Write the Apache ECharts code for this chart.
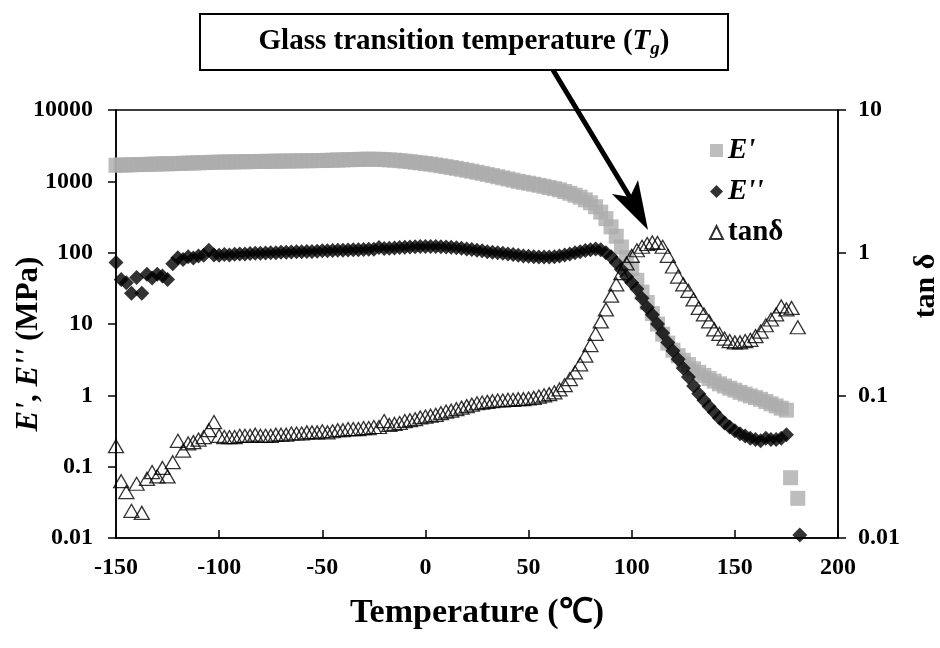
<!DOCTYPE html>
<html><head><meta charset="utf-8">
<script src="https://cdn.jsdelivr.net/npm/echarts@6/dist/echarts.min.js"></script>
<style>html,body{margin:0;padding:0;background:#fff}#c{width:940px;height:648px}</style>
</head><body><div id="c"></div>
<script>
// Temperature (°C) sampling points
const temps = [
-150,-147.5,-145,-142.5,-140,-137.5,-135,-132.5,-130,-127.5,
-125,-122.5,-120,-117.5,-115,-112.5,-110,-107.5,-105,-102.5,
-100,-97.5,-95,-92.5,-90,-87.5,-85,-82.5,-80,-77.5,
-75,-72.5,-70,-67.5,-65,-62.5,-60,-57.5,-55,-52.5,
-50,-47.5,-45,-42.5,-40,-37.5,-35,-32.5,-30,-27.5,
-25,-22.5,-20,-17.5,-15,-12.5,-10,-7.5,-5,-2.5,
0,2.5,5,7.5,10,12.5,15,17.5,20,22.5,
25,27.5,30,32.5,35,37.5,40,42.5,45,47.5,
50,52.5,55,57.5,60,62.5,65,67.5,70,72.5,
75,77.5,80,82.5,85,87.5,90,92.5,95,97.5,
100,102.5,105,107.5,110,112.5,115,117.5,120,122.5,
125,127.5,130,132.5,135,137.5,140,142.5,145,147.5,
150,152.5,155,157.5,160,162.5,165,167.5,170,172.5,
175];

// Storage modulus E' (MPa)
const ePrime = [
1680,1700,1690,1710,1720,1720,1730,1740,1750,1760,
1760,1770,1780,1790,1800,1810,1820,1830,1840,1850,
1860,1865,1870,1875,1880,1885,1890,1895,1900,1905,
1910,1915,1920,1925,1930,1935,1940,1945,1950,1955,
1960,1970,1980,1990,2000,2010,2020,2030,2040,2045,
2040,2035,2020,2000,1980,1950,1920,1890,1850,1815,
1780,1740,1700,1655,1610,1565,1520,1475,1430,1385,
1340,1295,1250,1205,1160,1120,1080,1040,1000,970,
940,910,880,850,820,790,760,720,680,640,
600,550,500,440,370,300,230,170,120,85,
60,41,28,20,14,10,7.2,5.4,4.3,3.6,
3.1,2.7,2.35,2.1,1.9,1.72,1.58,1.45,1.35,1.26,
1.18,1.1,1.04,0.98,0.93,0.88,0.82,0.76,0.71,0.66,
0.62];
const ePrimeTailT = [177, 180.5];
const ePrimeTail = [0.07, 0.036];

// Loss modulus E'' (MPa)
const eDouble = [
73,42,38,27,45,27,50,44,50,47,
42,70,85,80,88,84,90,92,108,93,
92,94,93,95,96,96,97,98,98,99,
100,100,101,101,102,103,103,104,104,105,
106,106,107,108,108,109,110,110,111,112,
112,118,114,115,116,118,119,120,121,122,
122,122,122,121,120,119,117,115,113,111,
108,106,103,101,100,98,96,94,92,90,
89,88,87,87,87,88,90,93,96,100,
103,107,110,113,110,100,88,72,58,46,
38,31,23,17,13.5,10,7.5,5.5,4.2,3.2,
2.4,1.8,1.35,1.05,0.85,0.7,0.58,0.48,0.41,0.36,
0.32,0.29,0.27,0.25,0.24,0.23,0.25,0.24,0.24,0.25,
0.28];
const eDoubleTailT = [181.5];
const eDoubleTail = [0.011];

// Loss tangent tan δ
const tanDelta = [
0.044,0.025,0.021,0.0155,0.024,0.015,0.026,0.029,0.027,0.031,
0.027,0.034,0.048,0.041,0.046,0.047,0.049,0.051,0.057,0.065,
0.052,0.051,0.051,0.051,0.052,0.052,0.052,0.053,0.052,0.052,
0.052,0.053,0.053,0.053,0.054,0.054,0.054,0.055,0.055,0.055,
0.056,0.055,0.056,0.057,0.057,0.058,0.058,0.058,0.059,0.059,
0.06,0.06,0.066,0.062,0.063,0.064,0.066,0.067,0.068,0.07,
0.071,0.072,0.073,0.075,0.077,0.078,0.08,0.082,0.084,0.086,
0.088,0.089,0.09,0.091,0.092,0.092,0.093,0.093,0.094,0.094,
0.095,0.096,0.098,0.1,0.102,0.105,0.11,0.118,0.13,0.145,
0.165,0.19,0.225,0.27,0.33,0.4,0.5,0.6,0.72,0.84,
0.95,1.04,1.1,1.15,1.18,1.17,1.1,0.95,0.8,0.68,
0.6,0.54,0.47,0.41,0.37,0.33,0.29,0.27,0.25,0.24,
0.235,0.235,0.24,0.245,0.26,0.28,0.31,0.34,0.37,0.42,
0.40];
const tanTailT = [177.5, 180.5];
const tanTail = [0.41, 0.30];

const xTicks = {min: -150, max: 200, interval: 50};
const seriesNames = ["E'", "E''", "tanδ"];

const FONT = '"Liberation Serif","Times New Roman",serif';
function pairs(xs, ys){ return xs.map((x,i)=>[x, ys[i]]); }
function logLabel(v){ return String(parseFloat(Number(v).toPrecision(6))); }

const chart = echarts.init(document.getElementById('c'), null, {renderer:'canvas'});
const axisLineStyle = {color:'#000', width:1.5};
const labelStyle = {color:'#000', fontFamily:FONT, fontWeight:'bold', fontSize:24};

chart.setOption({
  animation:false,
  backgroundColor:'#fff',
  grid:{left:116, right:102, top:110, bottom:110, show:true, borderColor:'#000', borderWidth:1.5,
        containLabel:false, outerBoundsMode:'none'},
  legend:{
    orient:'vertical', left:704, top:131, itemGap:12, itemWidth:13, itemHeight:13,
    data:seriesNames,
    formatter: n => n.startsWith('E') ? '{i|' + n + '}' : n,
    textStyle:{color:'#000', fontFamily:FONT, fontWeight:'bold', fontSize:29,
      rich:{i:{fontFamily:FONT, fontWeight:'bold', fontStyle:'italic', fontSize:29, color:'#000'}}}
  },
  xAxis:{
    type:'value', min:xTicks.min, max:xTicks.max, interval:xTicks.interval,
    name:'Temperature (℃)', nameLocation:'middle', nameGap:58,
    nameTextStyle:{color:'#000', fontFamily:FONT, fontWeight:'bold', fontSize:34},
    axisLine:{onZero:false, lineStyle:axisLineStyle}, axisTick:{inside:true, length:8, lineStyle:axisLineStyle},
    axisLabel:Object.assign({margin:18}, labelStyle),
    splitLine:{show:false}
  },
  yAxis:[{
    type:'log', logBase:10, min:0.01, max:10000, position:'left',
    name:"{i|E'}, {i|E''} (MPa)", nameLocation:'middle', nameGap:72, nameRotate:90, nameMoveOverlap:false,
    nameTextStyle:{color:'#000', fontFamily:FONT, fontWeight:'bold', fontSize:31, padding:[0,40,0,0],
      rich:{i:{fontFamily:FONT, fontWeight:'bold', fontStyle:'italic', fontSize:31, color:'#000'}}},
    axisLine:{show:true, onZero:false, lineStyle:axisLineStyle}, axisTick:{show:true, inside:false, length:8, lineStyle:axisLineStyle},
    axisLabel:Object.assign({margin:23, formatter:logLabel}, labelStyle),
    splitLine:{show:false}, minorTick:{show:false}
  },{
    type:'log', logBase:10, min:0.01, max:10, position:'right',
    name:'tan δ', nameLocation:'middle', nameGap:70, nameRotate:90,
    nameTextStyle:{color:'#000', fontFamily:FONT, fontWeight:'bold', fontSize:30, padding:[0,0,0,76]},
    axisLine:{show:true, onZero:false, lineStyle:axisLineStyle}, axisTick:{show:true, inside:false, length:8, lineStyle:axisLineStyle},
    axisLabel:Object.assign({margin:20, formatter:logLabel}, labelStyle),
    splitLine:{show:false}, minorTick:{show:false}
  }],
  series:[{
    name:seriesNames[0], type:'scatter', yAxisIndex:0, symbol:'rect', symbolSize:15,
    itemStyle:{color:'#adadad'},
    data:pairs(temps, ePrime).concat(pairs(ePrimeTailT, ePrimeTail))
  },{
    name:seriesNames[1], type:'scatter', yAxisIndex:0, symbol:'diamond', symbolSize:15,
    itemStyle:{color:'#000'},
    data:pairs(temps, eDouble).concat(pairs(eDoubleTailT, eDoubleTail))
  },{
    name:seriesNames[2], type:'scatter', yAxisIndex:1, symbol:'triangle', symbolSize:[15,13],
    itemStyle:{color:'rgba(255,255,255,0)', borderColor:'#000', borderWidth:1.3},
    data:pairs(temps, tanDelta).concat(pairs(tanTailT, tanTail))
  }],
  graphic:[
    {type:'rect', shape:{x:200, y:14, width:528, height:56}, style:{fill:'#fff', stroke:'#000', lineWidth:2}, z:10},
    {type:'text', x:464, y:42, z:11,
      style:{text:'Glass transition temperature ({t|T}{s|g})', fill:'#000', align:'center', verticalAlign:'middle',
        font:'bold 29px ' + FONT,
        rich:{t:{fontFamily:FONT, fontWeight:'bold', fontStyle:'italic', fontSize:29, fill:'#000'},
              s:{fontFamily:FONT, fontWeight:'bold', fontStyle:'italic', fontSize:19, fill:'#000', padding:[14,0,0,0]}}}},
    {type:'line', shape:{x1:553, y1:70, x2:631, y2:199}, style:{stroke:'#000', lineWidth:5}, z:10},
    {type:'polygon', shape:{points:[[648,230],[638,180],[630,197],[612,194]]}, style:{fill:'#000'}, z:10}
  ]
});
</script>
</body></html>
